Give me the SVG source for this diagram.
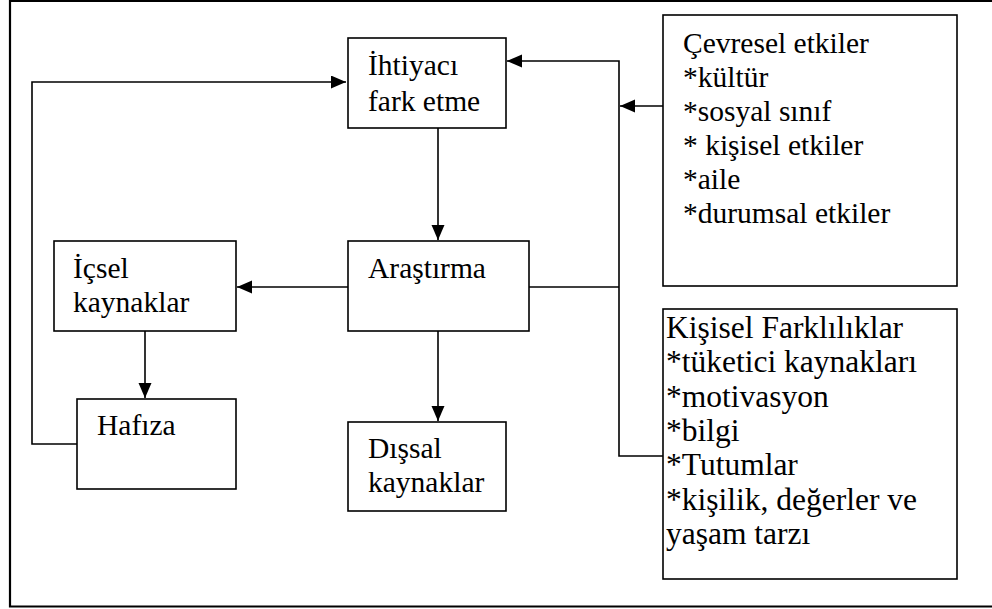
<svg xmlns="http://www.w3.org/2000/svg" width="992" height="609" viewBox="0 0 992 609">
  <style>
    .box { fill: #fff; stroke: #000; stroke-width: 1.6; }
    .wire { fill: none; stroke: #000; stroke-width: 1.6; }
    .frame { fill: none; stroke: #000; stroke-width: 2.2; }
  </style>
  <defs>
    <marker id="arrow" markerUnits="userSpaceOnUse" markerWidth="16" markerHeight="14" refX="15" refY="6.5" orient="auto">
      <path d="M0,0 L15,6.5 L0,13 Z" fill="#000"/>
    </marker>
  </defs>

  <!-- page frame, open on the right -->
  <path class="frame" d="M992,1 H10 V606.5 H992"/>

  <!-- connectors -->
  <g id="connectors">
    <path class="wire" d="M77,444 H32 V82 H346" marker-end="url(#arrow)"/>
    <path class="wire" d="M663,456 H619 V61 H507" marker-end="url(#arrow)"/>
    <path class="wire" d="M682,106 H620" marker-end="url(#arrow)"/>
    <path class="wire" d="M619,287 H507" marker-end="url(#arrow)"/>
    <path class="wire" d="M438,128 V240" marker-end="url(#arrow)"/>
    <path class="wire" d="M438,331 V421" marker-end="url(#arrow)"/>
    <path class="wire" d="M348,287 H237" marker-end="url(#arrow)"/>
    <path class="wire" d="M145,331 V398" marker-end="url(#arrow)"/>
  </g>

  <g id="nodes" font-family="Liberation Serif, serif" font-size="29.5" fill="#000">
    <g id="ihtiyaci">
      <rect class="box" x="348" y="38" width="158" height="90"/>
      <text x="368" y="75">İhtiyacı</text>
      <text x="368" y="111">fark etme</text>
    </g>

    <g id="arastirma">
      <rect class="box" x="348" y="241" width="181" height="90"/>
      <text x="368" y="278">Araştırma</text>
    </g>

    <g id="dissal">
      <rect class="box" x="348" y="422" width="158" height="89"/>
      <text x="368" y="458">Dışsal</text>
      <text x="368" y="492">kaynaklar</text>
    </g>

    <g id="icsel">
      <rect class="box" x="54" y="241" width="182" height="90"/>
      <text x="73" y="278">İçsel</text>
      <text x="73" y="312">kaynaklar</text>
    </g>

    <g id="hafiza">
      <rect class="box" x="77" y="399" width="159" height="90"/>
      <text x="97" y="435">Hafıza</text>
    </g>

    <g id="cevresel">
      <rect class="box" x="663" y="15" width="294" height="271"/>
      <text x="683" y="53">Çevresel etkiler</text>
      <text x="683" y="87">*kültür</text>
      <text x="683" y="121">*sosyal sınıf</text>
      <text x="683" y="155">* kişisel etkiler</text>
      <text x="683" y="189">*aile</text>
      <text x="683" y="223">*durumsal etkiler</text>
    </g>

    <g id="kisisel" font-size="31.5">
      <rect class="box" x="663" y="309" width="294" height="270"/>
      <text x="666" y="338">Kişisel Farklılıklar</text>
      <text x="666" y="372">*tüketici kaynakları</text>
      <text x="666" y="407">*motivasyon</text>
      <text x="666" y="441">*bilgi</text>
      <text x="666" y="475">*Tutumlar</text>
      <text x="666" y="510">*kişilik, değerler ve</text>
      <text x="666" y="544">yaşam tarzı</text>
    </g>
  </g>
</svg>
